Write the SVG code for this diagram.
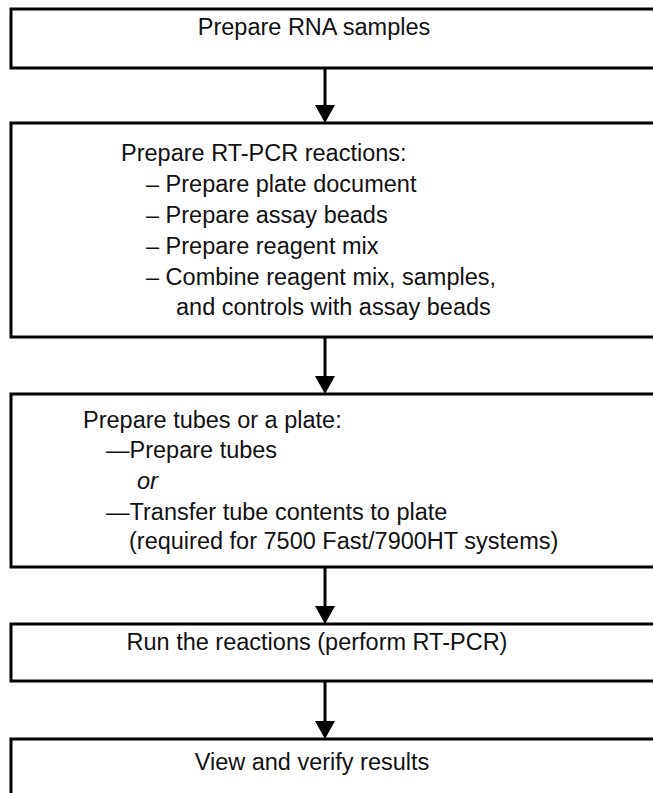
<svg xmlns="http://www.w3.org/2000/svg" width="653" height="793" viewBox="0 0 653 793">
<style>
.box{fill:#fff;stroke:#000;stroke-width:3}
text{font-family:"Liberation Sans",Arial,Helvetica,sans-serif;font-size:23.5px;fill:#111}
.c{text-anchor:middle}
.conn{stroke:#000;stroke-width:3;fill:none}
.head{fill:#000}
</style>
<rect width="653" height="793" fill="#fff"/>
<g id="connectors">
<line class="conn" x1="325" y1="68" x2="325" y2="108"/>
<line class="conn" x1="325" y1="337" x2="325" y2="379"/>
<line class="conn" x1="325" y1="567" x2="325" y2="609"/>
<line class="conn" x1="325" y1="681" x2="325" y2="724"/>
<path class="head" d="M315,105 L335,105 L325,123 Z"/>
<path class="head" d="M315,376 L335,376 L325,394 Z"/>
<path class="head" d="M315,606 L335,606 L325,624 Z"/>
<path class="head" d="M315,721 L335,721 L325,739 Z"/>
</g>
<g id="n1">
<rect class="box" x="11" y="9" width="660" height="59"/>
<text class="c" x="314" y="35">Prepare RNA samples</text>
</g>
<g id="n2">
<rect class="box" x="11" y="123" width="660" height="214"/>
<text x="121" y="161">Prepare RT-PCR reactions:</text>
<text x="146" y="192">– Prepare plate document</text>
<text x="146" y="223">– Prepare assay beads</text>
<text x="146" y="254">– Prepare reagent mix</text>
<text x="146" y="285">– Combine reagent mix, samples,</text>
<text x="176" y="315">and controls with assay beads</text>
</g>
<g id="n3">
<rect class="box" x="11" y="394" width="660" height="173"/>
<text x="83" y="428">Prepare tubes or a plate:</text>
<text x="106" y="458">—Prepare tubes</text>
<text x="137" y="489" font-style="italic">or</text>
<text x="106" y="520">—Transfer tube contents to plate</text>
<text x="129" y="549">(required for 7500 Fast/7900HT systems)</text>
</g>
<g id="n4">
<rect class="box" x="11" y="624" width="660" height="57"/>
<text class="c" x="317" y="650">Run the reactions (perform RT-PCR)</text>
</g>
<g id="n5">
<rect class="box" x="11" y="739" width="660" height="80"/>
<text class="c" x="312" y="770">View and verify results</text>
</g>
</svg>
